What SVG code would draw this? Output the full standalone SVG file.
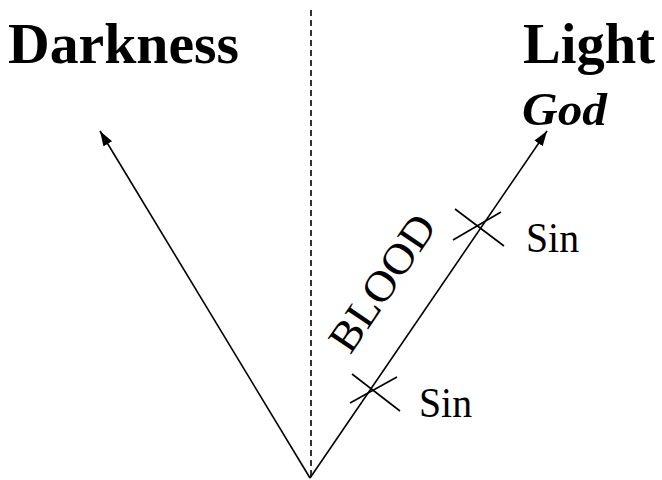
<svg xmlns="http://www.w3.org/2000/svg" width="662" height="480" viewBox="0 0 662 480">
  <defs>
    <marker id="arrow" markerUnits="userSpaceOnUse" markerWidth="16" markerHeight="12" refX="15" refY="5" orient="auto">
      <path d="M0,0 L15,5 L0,10 Z" fill="#000"/>
    </marker>
    <style>
      .title { font-family: 'Liberation Serif', 'Times New Roman', serif; font-weight: bold; font-size: 56px; fill: #000; }
      .god { font-family: 'Liberation Serif', 'Times New Roman', serif; font-weight: bold; font-style: italic; font-size: 47px; fill: #000; }
      .lbl { font-family: 'Liberation Serif', 'Times New Roman', serif; font-size: 43px; fill: #000; }
      .line { stroke: #000; stroke-width: 1.6; fill: none; }
      .dash { stroke: #000; stroke-width: 1.6; stroke-dasharray: 6 4; fill: none; }
    </style>
  </defs>
  <rect width="662" height="480" fill="#fff"/>

  <g id="divider">
    <line class="dash" x1="311" y1="10" x2="311" y2="478"/>
  </g>

  <g id="darkness">
    <text class="title" x="8" y="63" textLength="231" lengthAdjust="spacingAndGlyphs">Darkness</text>
  </g>

  <g id="light">
    <text class="title" x="523" y="63" textLength="132" lengthAdjust="spacingAndGlyphs">Light</text>
  </g>

  <g id="god">
    <text class="god" x="522" y="125" textLength="85" lengthAdjust="spacingAndGlyphs">God</text>
  </g>

  <g id="connectors">
    <line class="line" x1="310" y1="478" x2="100" y2="131" marker-end="url(#arrow)"/>
    <line class="line" x1="310" y1="478" x2="547" y2="131" marker-end="url(#arrow)"/>
  </g>

  <g id="blood">
    <text class="lbl" font-size="48" text-anchor="middle" transform="translate(394,291) rotate(-55.8)" textLength="156" lengthAdjust="spacingAndGlyphs">BLOOD</text>
  </g>

  <g id="sin-upper">
    <line class="line" x1="455" y1="209" x2="504" y2="246"/>
    <line class="line" x1="453" y1="240" x2="501" y2="212"/>
    <text class="lbl" x="526" y="252" textLength="53" lengthAdjust="spacingAndGlyphs">Sin</text>
  </g>

  <g id="sin-lower">
    <line class="line" x1="352" y1="374" x2="400" y2="411"/>
    <line class="line" x1="350" y1="403" x2="397" y2="377"/>
    <text class="lbl" x="419" y="417" textLength="53" lengthAdjust="spacingAndGlyphs">Sin</text>
  </g>
</svg>
